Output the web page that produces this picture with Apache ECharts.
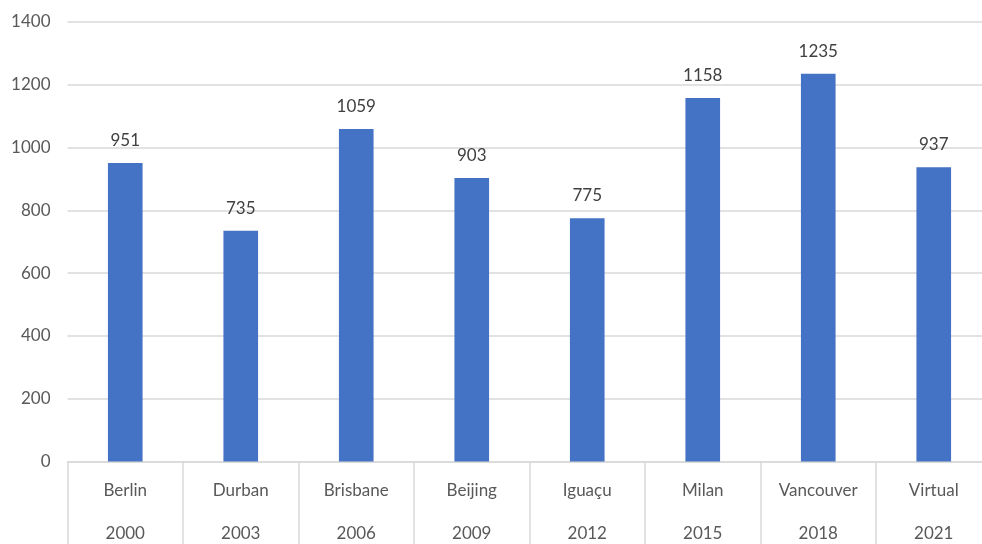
<!DOCTYPE html>
<html><head><meta charset="utf-8">
<script src="https://cdn.jsdelivr.net/npm/echarts@6/dist/echarts.min.js"></script>
<style>html,body{margin:0;padding:0;background:#fff;overflow:hidden;width:982px;height:544px}#c{width:1000px;height:544px}</style>
</head><body><div id="c"></div>
<script>
const cities = ["Berlin","Durban","Brisbane","Beijing","Iguaçu","Milan","Vancouver","Virtual"];
const years = ["2000","2003","2006","2009","2012","2015","2018","2021"];
const values = [951,735,1059,903,775,1158,1235,937];
const yTicks = {min:0, max:1400, interval:200};

const FONT = "Lato";
const chart = echarts.init(document.getElementById('c'));
chart.setOption({
  animation:false,
  grid:{left:67.5, top:22, width:924, height:440, containLabel:false},
  xAxis:{
    type:'category',
    data: cities.map((c,i)=>c+"\n\n"+years[i]),
    axisLine:{lineStyle:{color:'#d9d9d9', width:1.5}},
    axisTick:{show:true, length:90, interval:0, lineStyle:{color:'#d9d9d9', width:1.5}},
    axisLabel:{interval:0, margin:18, color:'#595959', fontFamily:FONT, fontSize:17, lineHeight:21.5}
  },
  yAxis:{
    type:'value', min:yTicks.min, max:yTicks.max, interval:yTicks.interval,
    axisLine:{show:false}, axisTick:{show:false},
    splitLine:{lineStyle:{color:'#d9d9d9', width:1.5}},
    axisLabel:{margin:17, color:'#595959', fontFamily:FONT, fontSize:17, formatter:v=>String(v)}
  },
  series:[{
    type:'bar', data:values, barWidth:'30%',
    itemStyle:{color:'#4472c4'},
    label:{show:true, position:'top', distance:14, color:'#404040', fontFamily:FONT, fontSize:17}
  }]
});
</script></body></html>
